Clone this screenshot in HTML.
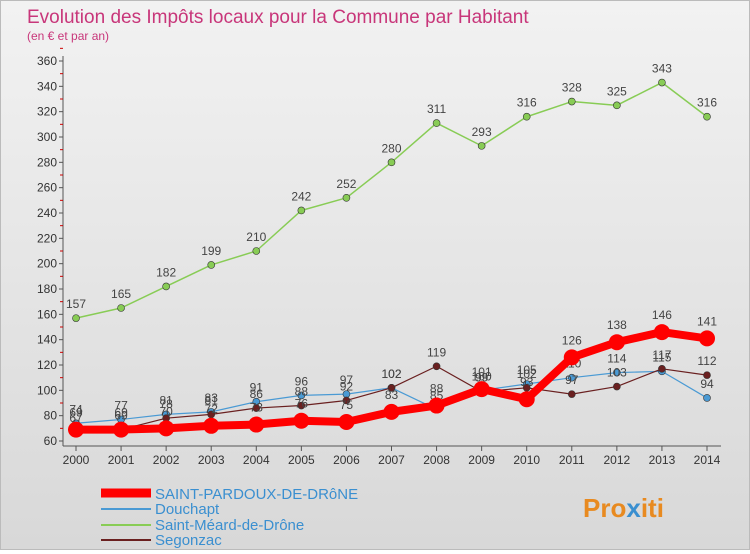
<!DOCTYPE html>
<html><head><meta charset="utf-8"><style>
body{margin:0;width:750px;height:550px;overflow:hidden;font-family:"Liberation Sans",sans-serif}
#wrap{position:relative;width:748px;height:548px;border:1px solid #bbb;background:linear-gradient(#f2f2f2,#d8d8d8)}
</style></head><body>
<div id="wrap">
<svg id="svg" width="748" height="548" xmlns="http://www.w3.org/2000/svg">
<text x="26" y="22" font-size="19" fill="#c8367a">Evolution des Impôts locaux pour la Commune par Habitant</text>
<text x="26" y="39" font-size="12" fill="#c8367a">(en € et par an)</text>
<g id="axes"></g><g id="series"></g>
<g>
<line x1="100" y1="492" x2="150" y2="492" stroke="#ff0000" stroke-width="9"/><text x="154" y="498" font-size="15" fill="#3a8fd0">SAINT-PARDOUX-DE-DRôNE</text>
<line x1="100" y1="508" x2="150" y2="508" stroke="#4a9ad4" stroke-width="2"/><text x="154" y="513" font-size="15" fill="#3a8fd0">Douchapt</text>
<line x1="100" y1="524" x2="150" y2="524" stroke="#88cc55" stroke-width="2"/><text x="154" y="529" font-size="15" fill="#3a8fd0">Saint-Méard-de-Drône</text>
<line x1="100" y1="539" x2="150" y2="539" stroke="#6a2020" stroke-width="2"/><text x="154" y="544" font-size="15" fill="#3a8fd0">Segonzac</text>
</g>
<text x="582" y="516" font-size="26" font-weight="bold" fill="#e88a20">Pro<tspan fill="#3a8fd0">x</tspan>iti</text>
</svg></div>
<script>
const years=[2000,2001,2002,2003,2004,2005,2006,2007,2008,2009,2010,2011,2012,2013,2014];
const yTicks=[60,80,100,120,140,160,180,200,220,240,260,280,300,320,340,360];
const pardoux=[69,69,70,72,73,76,75,83,88,101,93,126,138,146,141];
const douchapt=[74,77,81,83,91,96,97,102,85,100,105,110,114,115,94];
const meard=[157,165,182,199,210,242,252,280,311,293,316,328,325,343,316];
const segonzac=[67,69,78,81,86,88,92,102,119,99,102,97,103,117,112];
const NS="http://www.w3.org/2000/svg";
const xS=i=>75+i*(706-75)/14;
const yS=v=>440-(v-60)*380/300;
function mk(t,a,p){const e=document.createElementNS(NS,t);for(const k in a)e.setAttribute(k,a[k]);p.appendChild(e);return e;}
const ax=document.getElementById('axes'),sg=document.getElementById('series');
mk('line',{x1:62,y1:55,x2:62,y2:445,stroke:'#555'},ax);
mk('line',{x1:62,y1:445,x2:720,y2:445,stroke:'#555'},ax);
yTicks.forEach(v=>{const t=mk('text',{x:56,y:yS(v)+4,'font-size':12,fill:'#333','text-anchor':'end'},ax);t.textContent=v;


mk('line',{x1:58,y1:yS(v),x2:62,y2:yS(v),stroke:'#555'},ax);
mk('line',{x1:59,y1:yS(v+10),x2:62,y2:yS(v+10),stroke:'#c00'},ax);});
years.forEach((y,i)=>{const t=mk('text',{x:xS(i),y:463,'font-size':12,fill:'#333','text-anchor':'middle'},ax);t.textContent=y;


mk('line',{x1:xS(i),y1:445,x2:xS(i),y2:450,stroke:'#555'},ax);});
function draw(d,col,w,r,name,dy){const g=mk('g',{},sg);


mk('polyline',{points:d.map((v,i)=>xS(i)+','+yS(v)).join(' '),fill:'none',stroke:col,'stroke-width':w,'stroke-linejoin':'round'},g);
d.forEach((v,i)=>{const c=mk('circle',{cx:xS(i),cy:yS(v),r:r,fill:col,stroke:'#333','stroke-width':r>6?0:0.6},g);


const t=mk('text',{x:xS(i),y:yS(v)+dy,'font-size':12,fill:'#444','text-anchor':'middle'},g);t.textContent=v;

});}
draw(meard,'#88cc55',1.5,3.5,'saint-meard-series',-10);
draw(douchapt,'#4a9ad4',1.2,3.5,'douchapt-series',-10);
draw(segonzac,'#6a2020',1.2,3.5,'segonzac-series',-10);
draw(pardoux,'#ff0000',8,8,'saint-pardoux-series',-13);
</script>
</body></html>
